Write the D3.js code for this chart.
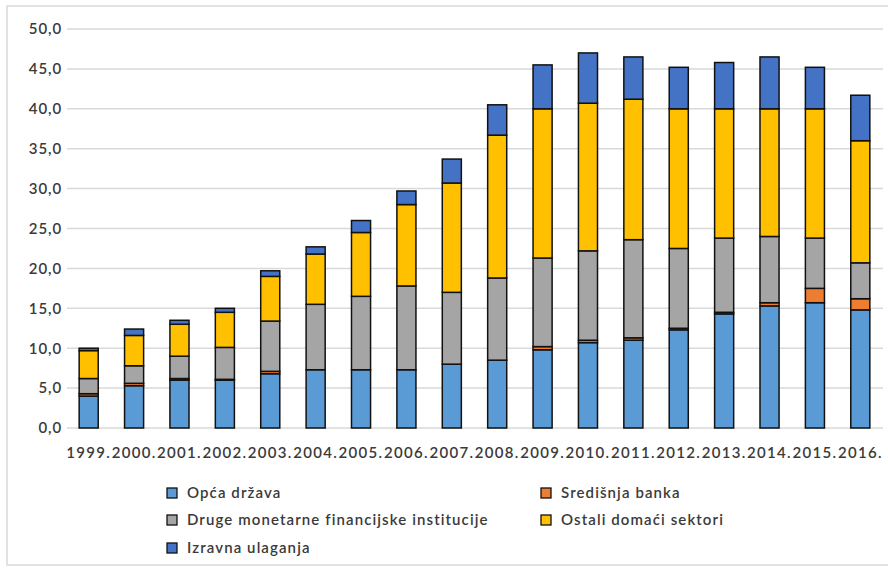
<!DOCTYPE html>
<html><head><meta charset="utf-8">
<script src="https://cdn.jsdelivr.net/npm/d3@7"></script>
<style>body{margin:0;background:#fff;} svg{display:block;font-family:Lato,"Noto Sans",sans-serif;}</style>
</head><body>
<svg id="c" width="888" height="569"></svg>
<script>
const years = ["1999.","2000.","2001.","2002.","2003.","2004.","2005.","2006.","2007.","2008.","2009.","2010.","2011.","2012.","2013.","2014.","2015.","2016."];
const opcaDrzava       = [4.0,5.3,6.0,6.0,6.8,7.3,7.3,7.3,8.0,8.5,9.8,10.7,11.0,12.3,14.3,15.3,15.7,14.8];
const sredisnjaBanka   = [0.3,0.3,0.2,0.1,0.3,0.0,0.0,0.0,0.0,0.0,0.4,0.3,0.3,0.2,0.2,0.4,1.8,1.4];
const drugeMFI         = [1.9,2.2,2.8,4.0,6.3,8.2,9.2,10.5,9.0,10.3,11.1,11.2,12.3,10.0,9.3,8.3,6.3,4.5];
const ostaliDomaci     = [3.5,3.8,4.0,4.4,5.6,6.3,8.0,10.2,13.7,17.9,18.7,18.5,17.6,17.5,16.2,16.0,16.2,15.3];
const izravnaUlaganja  = [0.3,0.8,0.5,0.5,0.7,0.9,1.5,1.7,3.0,3.8,5.5,6.3,5.3,5.2,5.8,6.5,5.2,5.7];
const yTicks = [0,5,10,15,20,25,30,35,40,45,50];

const seriesNames = ["Opća država","Središnja banka","Druge monetarne financijske institucije","Ostali domaći sektori","Izravna ulaganja"];
const seriesColors = ["#5B9BD5","#ED7D31","#A5A5A5","#FFC000","#4472C4"];
const seriesVals = [opcaDrzava, sredisnjaBanka, drugeMFI, ostaliDomaci, izravnaUlaganja];
const keys = ["a","b","c","d","e"];

const rows = years.map((y,i)=>{const r={year:y}; keys.forEach((k,j)=>r[k]=seriesVals[j][i]); return r;});
const stack = d3.stack().keys(keys)(rows);

const svg = d3.select("#c");
svg.append("rect").attr("x",7).attr("y",6).attr("width",900).attr("height",559)
  .attr("fill","none").attr("stroke","#d9d9d9").attr("stroke-width",1.5);

const x = d3.scaleBand().domain(years).range([66,883]).paddingInner(0.58).paddingOuter(0.29);
const y = d3.scaleLinear().domain([0,50]).range([428,29]);

const g = svg.append("g");
g.selectAll("line.grid").data(yTicks).join("line")
  .attr("x1",67).attr("x2",883).attr("y1",d=>y(d)).attr("y2",d=>y(d))
  .attr("stroke","#d9d9d9").attr("stroke-width",1.5);

const txtCol = "#3a3a3a";
const yAxis = d3.axisLeft(y).tickValues(yTicks).tickSize(0).tickPadding(6)
  .tickFormat(d=>d3.format(".1f")(d).replace(".",","));
const ya = svg.append("g").attr("transform","translate(62,0)").call(yAxis);
ya.select(".domain").remove();
ya.selectAll("text").attr("font-size",15).attr("fill",txtCol).attr("font-family","Lato")
  .attr("font-weight",600).attr("letter-spacing","0.9px").attr("x",0);

const xAxis = d3.axisBottom(x).tickSize(0).tickPadding(0);
const xa = svg.append("g").attr("transform","translate(0,447)").call(xAxis);
xa.select(".domain").remove();
xa.selectAll("text").attr("font-size",15).attr("fill",txtCol).attr("font-family","Lato")
  .attr("font-weight",600).attr("letter-spacing","1.3px").attr("dy","0.71em");

stack.forEach((s,j)=>{
  g.append("g").selectAll("rect").data(s).join("rect")
    .attr("x",d=>x(d.data.year)).attr("width",x.bandwidth())
    .attr("y",d=>y(d[1])).attr("height",d=>y(d[0])-y(d[1]))
    .attr("fill",seriesColors[j]).attr("stroke","#111").attr("stroke-width",1.5);
});

const legPos = [[167,493],[541,493],[167,520],[541,520],[167,548]];
const leg = svg.append("g");
seriesNames.forEach((n,i)=>{
  const [lx,ly] = legPos[i];
  leg.append("rect").attr("x",lx).attr("y",ly-5).attr("width",10).attr("height",10)
    .attr("fill",seriesColors[i]).attr("stroke","#111").attr("stroke-width",1.3);
  leg.append("text").attr("x",lx+20).attr("y",ly).attr("dy","0.35em")
    .attr("font-size",15).attr("fill",txtCol).attr("font-family","Lato").attr("font-weight",600)
    .attr("letter-spacing","1.1px").text(n);
});
</script>
</body></html>
